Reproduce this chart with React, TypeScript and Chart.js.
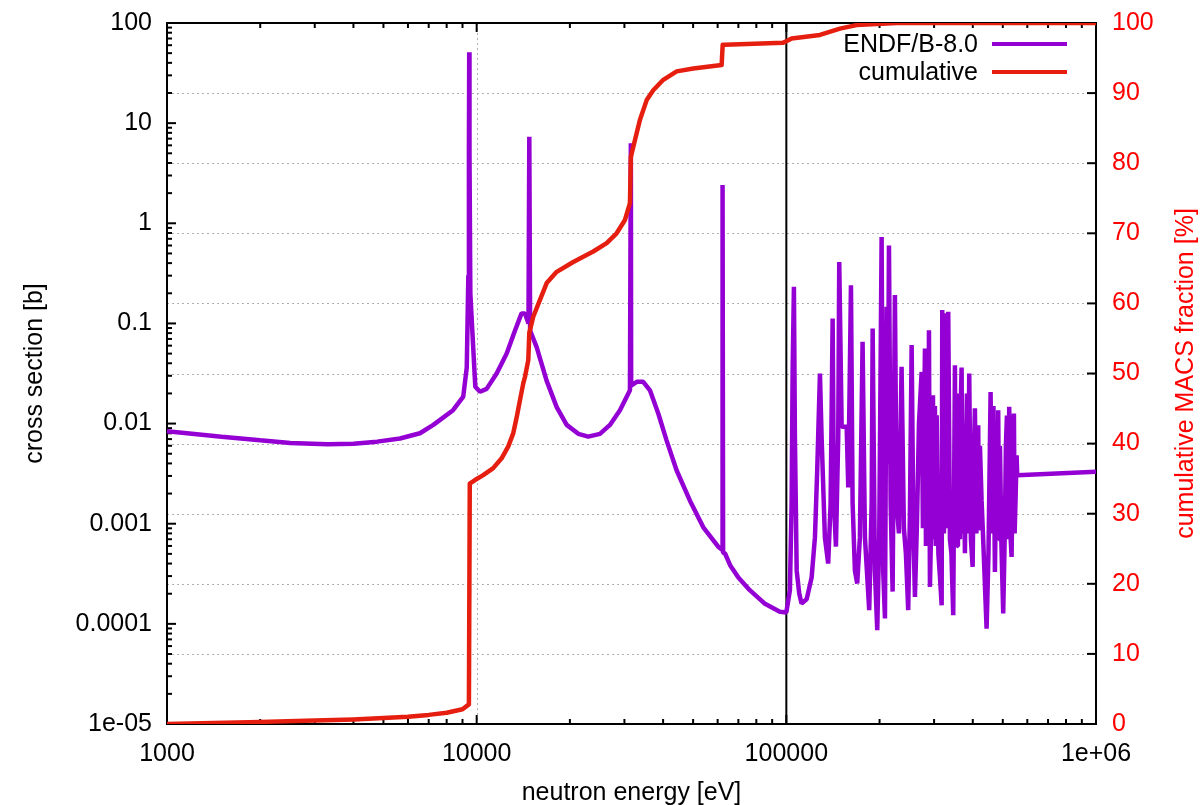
import React, { useEffect, useRef } from 'react';
import { Chart, registerables } from 'chart.js';

Chart.register(...registerables);

// ---- cross section (ENDF/B-8.0), smooth + isolated resonances region ----
const lowEnergy = [
  1000, 1500, 2000, 2500, 3300, 4000, 4770, 5653, 6560, 7245, 8390, 9050, 9290, 9400, 9440, 9460, 9480, 9540,
  9900, 10250, 10770, 11600, 12500, 13300, 13960, 14320, 14700, 14790, 14880, 15620, 16830, 18130, 19530,
  21290, 22930, 25010, 26940, 29020, 31260, 31470, 31540, 32890, 34510, 36270, 38590, 41040, 44240, 48840,
  53930, 60260, 62000, 62240, 62500, 63350, 66000, 70000, 76200, 85000, 95300, 100000,
];
const lowSigma = [
  0.0084, 0.0074, 0.0068, 0.0064, 0.0062, 0.0063, 0.0066, 0.0071, 0.008, 0.0097, 0.0136, 0.0186, 0.0363, 0.3, 5, 51, 5, 0.2,
  0.0233, 0.0208, 0.0222, 0.0316, 0.05, 0.085, 0.126, 0.126, 0.1, 7.3, 0.085, 0.058, 0.0267, 0.0146, 0.0097,
  0.0079, 0.0074, 0.0079, 0.0097, 0.0136, 0.0215, 6.3, 0.024, 0.0261, 0.0261, 0.0215, 0.0126, 0.0068, 0.0034, 0.0017,
  0.00092, 0.00059, 0.00055, 2.41, 0.00051, 0.000507, 0.00038, 0.00029, 0.000217, 0.00016, 0.000132, 0.00013,
];

// ---- cross section, resonance forest + flat tail ----
const forestEnergy = [
  100200, 102700, 104000, 104800, 105800, 106600, 108000, 110100, 112000, 116300, 120700, 123700, 125800, 128400,
  130000, 133200, 136500, 139000, 141100, 142500, 144600, 147100, 148200, 150900, 156600, 158500, 161700, 163700,
  166500, 169400, 172800, 176300, 179400, 185200, 188600, 190000, 193200, 196600, 199500, 203100, 205500, 208200,
  210800, 212500, 214500, 217200, 220400, 224200, 227000, 231000, 235600, 239700, 243300, 247500, 250600, 253900,
  257200, 260200, 264100, 268100, 273500, 276100, 280300, 282400, 284500, 286600, 288800, 290900, 294100, 295800,
  297500, 299700, 301900, 303800, 305800, 309800, 313300, 317400, 318800, 322800, 326400, 329400, 331300, 333300,
  337500, 341300, 345900, 350300, 352200, 354200, 356200, 358200, 363600, 365800, 368100, 370600, 373200, 377300,
  380100, 383000, 386300, 389600, 394500, 399600, 403400, 406400, 411000, 413700, 416500, 419200, 421900, 427100,
  433000, 443300, 449500, 456700, 461300, 463900, 466500, 471600, 477000, 480100, 483300, 486400, 489600, 495100,
  501600, 507900, 511700, 515600, 520000, 524500, 529100, 533900, 539000, 543200, 546100, 549100, 554200, 556700,
  1000000,
];
const forestSigma = [
  0.00013, 0.000217, 0.0016, 0.0345, 0.232, 0.0073, 0.00034, 0.0002, 0.00016, 0.000176, 0.00029, 0.00073, 0.0034, 0.0316,
  0.0073, 0.00073, 0.0004, 0.0016, 0.112, 0.0016, 0.00059, 0.0073, 0.41, 0.0093, 0.0093, 0.0023, 0.241, 0.0016,
  0.00034, 0.000253, 0.00073, 0.0655, 0.00073, 0.000137, 0.0016, 0.089, 0.00034, 0.0000863, 0.00073, 0.73, 0.00034, 0.000113,
  0.147, 0.004, 0.6, 0.0016, 0.00021, 0.192, 0.0016, 0.0008, 0.0368, 0.0009, 0.0005, 0.000137, 0.0012, 0.0607,
  0.0009, 0.000186, 0.001, 0.01, 0.0328, 0.0009, 0.0562, 0.0006, 0.02, 0.0008, 0.0857, 0.000234, 0.0012, 0.006,
  0.0192, 0.0007, 0.015, 0.0006, 0.0121, 0.0005, 0.0003, 0.000153, 0.136, 0.0008, 0.05, 0.126, 0.0009, 0.131,
  0.0007, 0.0005, 0.000122, 0.0383, 0.0008, 0.012, 0.0006, 0.02, 0.0007, 0.015, 0.0363, 0.0008, 0.01, 0.000507,
  0.004, 0.02, 0.0008, 0.0316, 0.0007, 0.00037, 0.005, 0.0142, 0.0008, 0.006, 0.00964, 0.0009, 0.006, 0.00172,
  0.0006, 0.0000897, 0.0005, 0.0207, 0.0008, 0.008, 0.015, 0.00033, 0.005, 0.0009, 0.0136, 0.0007, 0.006, 0.0006,
  0.000127, 0.0009, 0.006, 0.012, 0.0007, 0.0147, 0.0008, 0.000466, 0.006, 0.0126, 0.0008, 0.0015, 0.00483, 0.00305,
  0.0033,
];

// ---- cumulative MACS fraction [%] ----
const cumEnergy = [
  1000, 2000, 3000, 4000, 5000, 6000, 7000, 8000, 9000, 9440, 9500, 9875, 10500, 11310, 12040, 12650, 13130,
  13470, 13800, 14140, 14320, 14680, 14790, 15230, 16010, 16830, 18130, 20510, 23790, 26290, 28310, 30120,
  31260, 31470, 32450, 33680, 35400, 37170, 40050, 44240, 50050, 61810, 62300, 63340, 97720, 100000, 104000,
  128400, 149000, 168700, 227000, 1000000,
];
const cumPercent = [
  0, 0.3, 0.5, 0.65, 0.85, 1.05, 1.3, 1.6, 2.1, 2.8, 34.3, 34.8, 35.5, 36.5, 37.9, 39.6, 41.5,
  43.8, 46.2, 48.6, 49.5, 51.9, 55.8, 58.1, 60.5, 62.9, 64.5, 65.9, 67.4, 68.6, 70.0, 71.9,
  74.3, 80.9, 83.3, 86.2, 89.0, 90.4, 91.9, 93.1, 93.5, 94.0, 96.9, 96.9, 97.2, 97.4, 97.8,
  98.3, 99.2, 99.7, 100, 100,
];

// ---- axes ----
const xTickValues = [1000, 10000, 100000, 1000000];
const xTickLabels = ['1000', '10000', '100000', '1e+06'];
const yTickValues = [0.00001, 0.0001, 0.001, 0.01, 0.1, 1, 10, 100];
const yTickLabels = ['1e-05', '0.0001', '0.001', '0.01', '0.1', '1', '10', '100'];
const y2TickValues = [0, 10, 20, 30, 40, 50, 60, 70, 80, 90, 100];
const markerEnergy = 100000;
const legendLabels = ['ENDF/B-8.0', 'cumulative'];

const FONT = '"Liberation Sans", Arial, Helvetica, sans-serif';
const PURPLE = '#9400d3';
const RED_LINE = '#e61e10';
const RED_TEXT = '#ff0000';

const decorPlugin = {
  id: 'decor',
  beforeDatasetsDraw(chart: any) {
    const { ctx, chartArea: a, scales } = chart;
    const sx = scales.x, sy = scales.y, sy2 = scales.y2;
    ctx.save();
    ctx.strokeStyle = '#b0b0b0';
    ctx.lineWidth = 1;
    ctx.setLineDash([2, 3]);
    y2TickValues.forEach((v) => {
      if (v <= sy2.min || v >= sy2.max) return;
      const py = Math.round(sy2.getPixelForValue(v)) + 0.5;
      ctx.beginPath(); ctx.moveTo(a.left, py); ctx.lineTo(a.right, py); ctx.stroke();
    });
    xTickValues.forEach((v) => {
      if (v <= sx.min || v >= sx.max) return;
      const px = Math.round(sx.getPixelForValue(v)) + 0.5;
      ctx.beginPath(); ctx.moveTo(px, a.top); ctx.lineTo(px, a.bottom); ctx.stroke();
    });
    ctx.setLineDash([]);
    ctx.strokeStyle = '#000';
    ctx.lineWidth = 2;
    const major = 9, minor = 5;
    const tick = (x1: number, y1: number, x2: number, y2: number) => {
      ctx.beginPath(); ctx.moveTo(x1, y1); ctx.lineTo(x2, y2); ctx.stroke();
    };
    xTickValues.forEach((v) => {
      const px = sx.getPixelForValue(v);
      tick(px, a.bottom, px, a.bottom - major);
      tick(px, a.top, px, a.top + major);
      if (v < sx.max) {
        for (let m = 2; m <= 9; m++) {
          const p = sx.getPixelForValue(v * m);
          tick(p, a.bottom, p, a.bottom - minor);
          tick(p, a.top, p, a.top + minor);
        }
      }
    });
    yTickValues.forEach((v) => {
      const py = sy.getPixelForValue(v);
      tick(a.left, py, a.left + major, py);
      if (v < sy.max) {
        for (let m = 2; m <= 9; m++) {
          const p = sy.getPixelForValue(v * m);
          tick(a.left, p, a.left + minor, p);
        }
      }
    });
    y2TickValues.forEach((v) => {
      const py = sy2.getPixelForValue(v);
      tick(a.right, py, a.right - major, py);
    });
    ctx.strokeRect(a.left, a.top, a.right - a.left, a.bottom - a.top);
    ctx.restore();
  },
  afterDraw(chart: any) {
    const { ctx, chartArea: a } = chart;
    ctx.save();
    ctx.fillStyle = RED_TEXT;
    ctx.font = `25px ${FONT}`;
    ctx.textAlign = 'center';
    ctx.textBaseline = 'middle';
    ctx.translate(1186, (a.top + a.bottom) / 2);
    ctx.rotate(-Math.PI / 2);
    ctx.fillText('cumulative MACS fraction [%]', 0, 0);
    ctx.restore();
    ctx.save();
    ctx.font = `25px ${FONT}`;
    ctx.textAlign = 'right';
    ctx.textBaseline = 'middle';
    ctx.fillStyle = '#000';
    const colors = [PURPLE, RED_LINE];
    legendLabels.forEach((label, i) => {
      const yy = 44 + i * 28;
      ctx.fillText(label, 978, yy + 1);
      ctx.strokeStyle = colors[i];
      ctx.lineWidth = 4;
      ctx.beginPath(); ctx.moveTo(992, yy); ctx.lineTo(1067, yy); ctx.stroke();
    });
    ctx.restore();
  },
};

export default function App() {
  const ref = useRef<HTMLCanvasElement>(null);
  useEffect(() => {
    const xsEnergy = lowEnergy.concat(forestEnergy);
    const xsSigma = lowSigma.concat(forestSigma);
    const chart = new Chart(ref.current as HTMLCanvasElement, {
      type: 'line',
      data: {
        datasets: [
          {
            label: 'marker',
            data: [{ x: markerEnergy, y: 0.00001 }, { x: markerEnergy, y: 100 }],
            yAxisID: 'y',
            borderColor: '#000',
            borderWidth: 2,
            pointRadius: 0,
            order: 3,
          },
          {
            label: legendLabels[0],
            data: xsEnergy.map((e, i) => ({ x: e, y: xsSigma[i] })),
            yAxisID: 'y',
            borderColor: PURPLE,
            borderWidth: 4.5,
            borderJoinStyle: 'bevel',
            pointRadius: 0,
            tension: 0,
            order: 2,
          },
          {
            label: legendLabels[1],
            data: cumEnergy.map((e, i) => ({ x: e, y: cumPercent[i] })),
            yAxisID: 'y2',
            borderColor: RED_LINE,
            borderWidth: 4.5,
            borderJoinStyle: 'round',
            pointRadius: 0,
            tension: 0,
            order: 1,
          },
        ] as any,
      },
      options: {
        animation: false,
        responsive: false,
        devicePixelRatio: 1,
        layout: { padding: { top: 23, left: 0, right: 0, bottom: 0 } },
        plugins: { legend: { display: false }, tooltip: { enabled: false } },
        scales: {
          x: {
            type: 'logarithmic',
            min: 1000,
            max: 1000000,
            grid: { display: false, drawTicks: false },
            border: { display: false },
            afterBuildTicks: (s: any) => { s.ticks = xTickValues.map((v) => ({ value: v })); },
            afterFit: (s: any) => { s.height = 81; s.paddingLeft = 0; s.paddingRight = 0; },
            ticks: {
              autoSkip: false,
              maxRotation: 0,
              padding: 15,
              color: '#000',
              font: { family: FONT, size: 25 },
              callback: (v: any) => xTickLabels[xTickValues.indexOf(Number(v))] ?? '',
            },
            title: {
              display: true,
              text: 'neutron energy [eV]',
              color: '#000',
              font: { family: FONT, size: 25, lineHeight: 1.2 },
              padding: { top: 0, bottom: -3 },
            },
          },
          y: {
            type: 'logarithmic',
            position: 'left',
            min: 0.00001,
            max: 100,
            grid: { display: false, drawTicks: false },
            border: { display: false },
            afterBuildTicks: (s: any) => { s.ticks = yTickValues.map((v) => ({ value: v })); },
            afterFit: (s: any) => { s.width = 167; s.paddingTop = 0; s.paddingBottom = 0; },
            ticks: {
              autoSkip: false,
              padding: 15,
              color: '#000',
              font: { family: FONT, size: 25 },
              callback: (v: any) => {
                const idx = yTickValues.findIndex((t) => Math.abs(Math.log10(t) - Math.log10(Number(v))) < 1e-6);
                return idx >= 0 ? yTickLabels[idx] : '';
              },
            },
            title: {
              display: true,
              text: 'cross section [b]',
              color: '#000',
              font: { family: FONT, size: 25, lineHeight: 1.2 },
              padding: { top: 20, bottom: 0 },
            },
          },
          y2: {
            type: 'linear',
            position: 'right',
            min: 0,
            max: 100,
            grid: { display: false, drawTicks: false },
            border: { display: false },
            afterBuildTicks: (s: any) => { s.ticks = y2TickValues.map((v) => ({ value: v })); },
            afterFit: (s: any) => { s.width = 106; s.paddingTop = 0; s.paddingBottom = 0; },
            ticks: {
              autoSkip: false,
              padding: 16,
              color: RED_TEXT,
              font: { family: FONT, size: 25 },
              callback: (v: any) => String(v),
            },
          },
        },
      } as any,
      plugins: [decorPlugin],
    });
    return () => chart.destroy();
  }, []);
  return (
    <div style={{ position: 'absolute', left: 0, top: 0, width: 1202, height: 805, background: '#fff' }}>
      <canvas ref={ref} width={1202} height={805} style={{ display: 'block', width: 1202, height: 805 }} />
    </div>
  );
}
